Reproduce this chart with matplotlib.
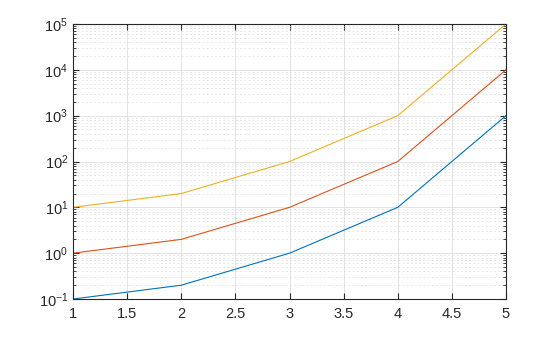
import matplotlib.pyplot as plt
from matplotlib.ticker import LogLocator, NullFormatter

plt.rcParams['font.family'] = ['Liberation Sans', 'DejaVu Sans']

x = [1, 2, 3, 4, 5]
y_blue = [0.1, 0.2, 1, 10, 1000]
y_red = [1, 2, 10, 100, 10000]
y_yellow = [10, 20, 100, 1000, 100000]

fig = plt.figure(figsize=(5.6, 3.37), dpi=100)
ax = fig.add_axes([73/560, 1 - 299/337, (506 - 73)/560, (299 - 24)/337])

ax.semilogy(x, y_blue, color='#0072BD', lw=0.8)
ax.semilogy(x, y_red, color='#D95319', lw=0.8)
ax.semilogy(x, y_yellow, color='#EDB120', lw=0.8)

ax.set_xlim(1, 5)
ax.set_ylim(0.1, 1e5)
ax.set_xticks([1, 1.5, 2, 2.5, 3, 3.5, 4, 4.5, 5])
ax.set_xticklabels(['1', '1.5', '2', '2.5', '3', '3.5', '4', '4.5', '5'])
ax.yaxis.set_major_locator(LogLocator(base=10, numticks=10))
ax.yaxis.set_minor_locator(LogLocator(base=10, subs=range(2, 10), numticks=10))
ax.yaxis.set_minor_formatter(NullFormatter())

ax.grid(True, which='major', color='#dedede', lw=0.6)
ax.grid(True, which='minor', axis='y', color='#e0e0e0', lw=0.6, ls=(0, (2, 3)))
ax.set_axisbelow(True)

ax.tick_params(which='both', direction='in', top=True, right=True, labelsize=10.5, colors='#262626')
ax.tick_params(which='major', length=4)
ax.tick_params(which='minor', length=2)
ax.tick_params(axis='x', pad=6)
for s in ax.spines.values():
    s.set_color('#262626')
    s.set_linewidth(0.8)

fig.savefig('out.png', dpi=100)
